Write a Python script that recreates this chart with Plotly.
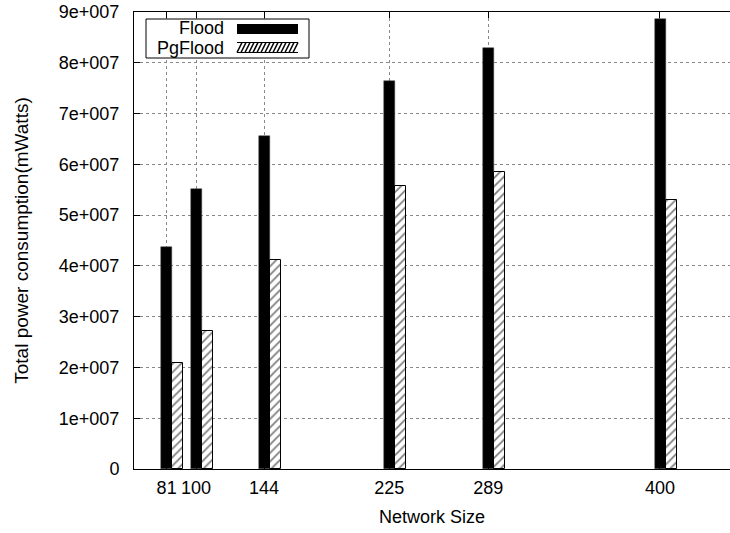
import plotly.graph_objects as go

# ---- data ----
network_size = [81, 100, 144, 225, 289, 400]
flood = [4.37e7, 5.51e7, 6.55e7, 7.64e7, 8.29e7, 8.86e7]
pgflood = [2.08e7, 2.71e7, 4.12e7, 5.57e7, 5.84e7, 5.30e7]
y_tickvals = [0, 1e7, 2e7, 3e7, 4e7, 5e7, 6e7, 7e7, 8e7, 9e7]
y_ticktext = ["0", "1e+007", "2e+007", "3e+007", "4e+007", "5e+007",
              "6e+007", "7e+007", "8e+007", "9e+007"]
series_names = ["Flood", "PgFlood"]

FONT = "Liberation Sans, Arial, sans-serif"
W, H = 730, 533
L, R, T, B = 134, 0, 12, 64
PW, PH = W - L - R, H - T - B

def px(x):
    return (x - L) / PW

def py(y):
    return (H - B - y) / PH

bw = 7.2
fig = go.Figure()
fig.add_trace(go.Bar(
    x=network_size, y=flood, name=series_names[0], width=bw, offset=-3.5,
    marker=dict(color="black", line=dict(color="#444", width=0.5)),
    showlegend=False,
))
fig.add_trace(go.Bar(
    x=network_size, y=pgflood, name=series_names[1], width=bw, offset=3.7,
    marker=dict(color="white", line=dict(color="black", width=1),
                pattern=dict(shape="/", fgcolor="black", bgcolor="white",
                             size=6, solidity=0.3)),
    showlegend=False,
))

shapes = []
annotations = []
# legend box
shapes.append(dict(type="rect", xref="paper", yref="paper",
                   x0=px(146), x1=px(309), y0=py(58), y1=py(19),
                   line=dict(color="black", width=1), fillcolor="white", layer="above"))
# Flood swatch
shapes.append(dict(type="rect", xref="paper", yref="paper",
                   x0=px(237), x1=px(298), y0=py(34), y1=py(24),
                   line=dict(width=0), fillcolor="black", layer="above"))
# PgFlood hatched swatch
sx0, sx1, sy0, sy1 = 237, 298, 52.5, 42.5
shapes.append(dict(type="line", xref="paper", yref="paper",
                   x0=px(sx0), x1=px(sx1), y0=py(sy1), y1=py(sy1),
                   line=dict(color="black", width=1.2), layer="above"))
shapes.append(dict(type="line", xref="paper", yref="paper",
                   x0=px(sx0), x1=px(sx1), y0=py(sy0), y1=py(sy0),
                   line=dict(color="black", width=1.2), layer="above"))
xx = sx0
while xx + 5 <= sx1:
    shapes.append(dict(type="line", xref="paper", yref="paper",
                       x0=px(xx), x1=px(xx + 5), y0=py(sy0), y1=py(sy1),
                       line=dict(color="black", width=1.6), layer="above"))
    xx += 4
for name, yc in zip(series_names, [27.5, 48.2]):
    annotations.append(dict(text=name, xref="paper", yref="paper",
                            x=px(226), y=py(yc), xanchor="right", yanchor="middle",
                            showarrow=False, font=dict(family=FONT, size=18, color="black")))

fig.update_layout(
    width=W, height=H,
    margin=dict(l=L, r=R, t=T, b=B, pad=0),
    paper_bgcolor="white", plot_bgcolor="white",
    barmode="overlay", bargap=0,
    font=dict(family=FONT, size=18, color="black"),
    shapes=shapes, annotations=annotations,
    showlegend=False,
)
fig.update_xaxes(
    range=[59.9, 445.3], tickvals=network_size, ticktext=[str(v) for v in network_size],
    ticks="inside", ticklen=6, tickcolor="black", showline=True, linecolor="black",
    linewidth=1, mirror="ticks", showgrid=True, gridcolor="#888", griddash="dot",
    gridwidth=1, zeroline=False, ticklabelstandoff=2,
    title=dict(text="Network Size", standoff=13, font=dict(size=18)),
)
fig.update_yaxes(
    range=[0, 9e7], tickvals=y_tickvals, ticktext=y_ticktext,
    ticks="inside", ticklen=6, tickcolor="black", showline=True, linecolor="black",
    linewidth=1, mirror=False, showgrid=True, gridcolor="#888", griddash="dot",
    gridwidth=1, zeroline=False, ticklabelstandoff=10,
    title=dict(text="Total power consumption(mWatts)", standoff=25, font=dict(size=19)),
)
fig.write_html("out.html")
